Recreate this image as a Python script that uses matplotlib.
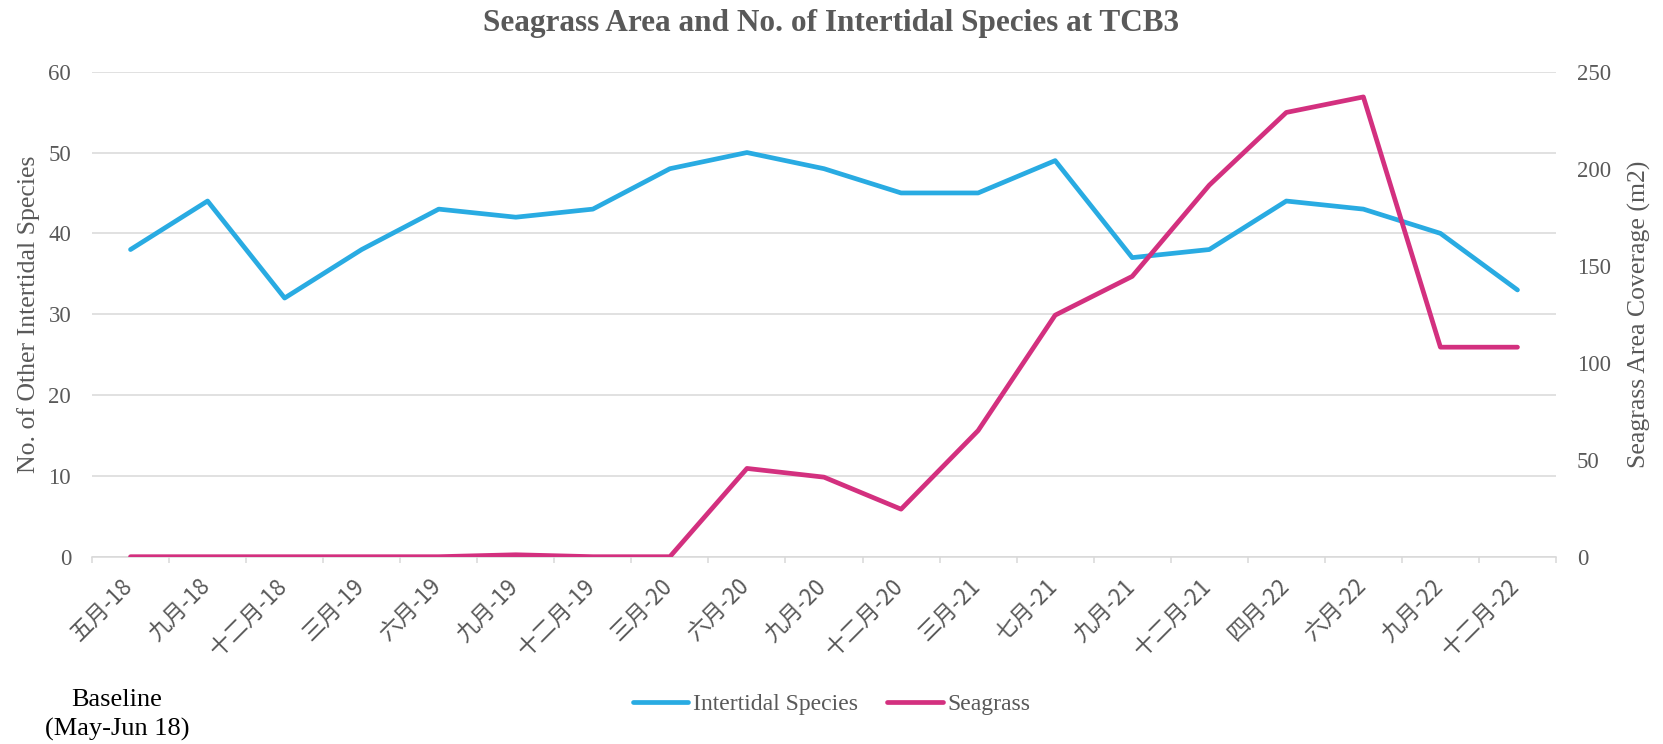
import matplotlib
matplotlib.use('Agg')
import matplotlib.pyplot as plt
import matplotlib.transforms as mtransforms
from matplotlib.lines import Line2D
import numpy as np

# ---------------- data ----------------
categories = ['五月-18', '九月-18', '十二月-18', '三月-19', '六月-19', '九月-19',
              '十二月-19', '三月-20', '六月-20', '九月-20', '十二月-20', '三月-21',
              '七月-21', '九月-21', '十二月-21', '四月-22', '六月-22', '九月-22',
              '十二月-22']
intertidal_species = [38, 44, 32, 38, 43, 42, 43, 48, 50, 48, 45, 45, 49,
                      37, 38, 44, 43, 40, 33]
seagrass_area = [0, 0, 0, 0, 0, 1, 0, 0, 45.5, 41, 24.5, 65, 124.5,
                 144.5, 191.5, 229, 237, 108, 108]
left_ticks = [0, 10, 20, 30, 40, 50, 60]
right_ticks = [0, 50, 100, 150, 200, 250]

title = 'Seagrass Area and No. of Intertidal Species at TCB3'
left_label = 'No. of Other Intertidal Species'
right_label = 'Seagrass Area Coverage (m2)'
series_names = ['Intertidal Species', 'Seagrass']
note_text = 'Baseline\n(May-Jun 18)'

# ---------------- style ----------------
BLUE = '#29ABE2'
PINK = '#D3307F'
GRAY = '#595959'
GRID = '#D9D9D9'
SERIF = ['Liberation Serif', 'DejaVu Serif']
CJK = ['Noto Sans CJK SC', 'DejaVu Sans']

plt.rcParams['font.family'] = SERIF

W, H = 1663, 744
fig = plt.figure(figsize=(W / 100, H / 100), dpi=100)
ax_l, ax_r, ax_t, ax_b = 92, 1556, 71.7, 556.7
ax = fig.add_axes([ax_l / W, 1 - ax_b / H, (ax_r - ax_l) / W, (ax_b - ax_t) / H])
ax2 = ax.twinx()

x = np.arange(len(categories))
lw = 3.4
ax.plot(x, intertidal_species, color=BLUE, lw=lw, solid_capstyle='round',
        solid_joinstyle='round', zorder=3)
ax2.plot(x, seagrass_area, color=PINK, lw=lw, solid_capstyle='round',
         solid_joinstyle='round', zorder=3)

ax.set_xlim(-0.5, len(categories) - 0.5)
ax.set_ylim(left_ticks[0], left_ticks[-1])
ax2.set_ylim(right_ticks[0], right_ticks[-1])
ax.set_yticks(left_ticks)
ax2.set_yticks(right_ticks)

ax.yaxis.grid(True, color=GRID, lw=1.1)
ax.set_axisbelow(True)
for a in (ax, ax2):
    for s in a.spines.values():
        s.set_visible(False)
ax.spines['bottom'].set_visible(True)
ax.spines['bottom'].set_color(GRID)
ax.spines['bottom'].set_linewidth(1.1)

ax.tick_params(axis='y', length=0, pad=15, labelsize=16.5, labelcolor=GRAY)
ax2.tick_params(axis='y', length=0, pad=15, labelsize=16.5, labelcolor=GRAY)

# x ticks: labels at category centres, tick marks at bin boundaries
ax.set_xticks(x)
ax.set_xticks(np.arange(-0.5, len(categories)), minor=True)
ax.tick_params(axis='x', which='major', length=0, pad=13)
ax.tick_params(axis='x', which='minor', length=4.5, width=1.1, color=GRID)
ax.set_xticklabels(categories, rotation=45, ha='right', va='top',
                   family=CJK, fontsize=16, color=GRAY)
offset = mtransforms.ScaledTranslation(7 / 100, 0, fig.dpi_scale_trans)
for lab in ax.get_xticklabels():
    lab.set_transform(lab.get_transform() + offset)

# texts
fig.text(0.5, 1 - 23 / H, title, ha='center', va='center', fontsize=22.5,
         fontweight='bold', color=GRAY)
fig.text(29 / W, 1 - 314 / H, left_label, rotation=90, ha='center', va='center',
         fontsize=18.5, color=GRAY)
fig.text(1639 / W, 1 - 314 / H, right_label, rotation=90, ha='center', va='center',
         fontsize=18.5, color=GRAY)
fig.text(117 / W, 1 - 715 / H, note_text, ha='center', va='center', fontsize=19,
         color='black', linespacing=1.38)

handles = [Line2D([], [], color=BLUE, lw=lw, solid_capstyle='round'),
           Line2D([], [], color=PINK, lw=lw, solid_capstyle='round')]
leg = fig.legend(handles, series_names, loc='center', bbox_to_anchor=(0.5, 1 - 704 / H),
                 ncol=2, frameon=False, fontsize=17, handlelength=2.37,
                 handletextpad=0.17, columnspacing=1.27)
for t in leg.get_texts():
    t.set_color(GRAY)

fig.savefig('out.png', dpi=100)
